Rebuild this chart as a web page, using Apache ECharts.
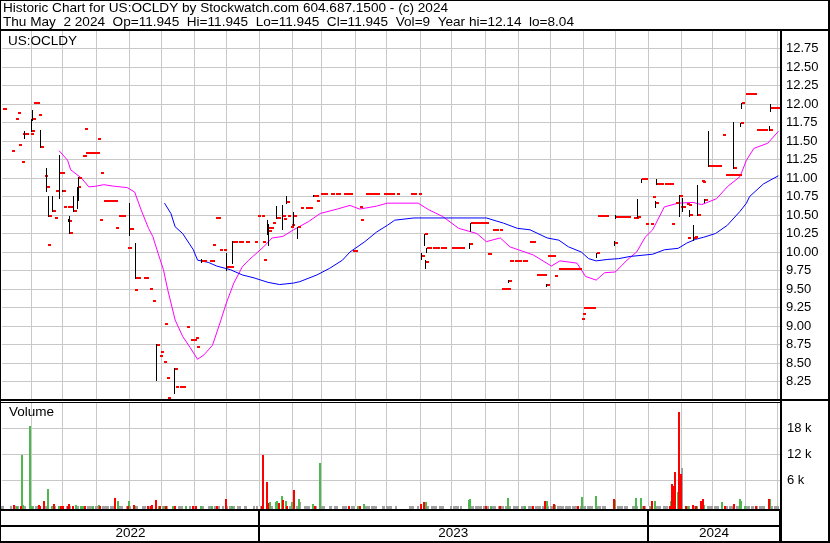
<!DOCTYPE html>
<html><head><meta charset="utf-8">
<script src="https://cdn.jsdelivr.net/npm/echarts@6/dist/echarts.min.js"></script>
<style>html,body{margin:0;padding:0;background:#fff}#c{width:830px;height:543px}</style>
</head><body><div id="c"></div>
<script>
// ---------------- text ----------------
const headerLine1 = 'Historic Chart for US:OCLDY by Stockwatch.com 604.687.1500 - (c) 2024';
const headerLine2 = 'Thu May  2 2024  Op=11.945  Hi=11.945  Lo=11.945  Cl=11.945  Vol=9  Year hi=12.14  lo=8.04';
const symbolLabel = 'US:OCLDY';
const volumeLabel = 'Volume';
const yearLabels = ['2022', '2023', '2024'];
const firstDay = '2022-05-05';
const lastDay = '2024-05-03';

// ---------------- daily closes [date, close] ----------------
const closes = [
['2022-05-05',11.93],['2022-05-06',11.93],['2022-05-13',11.37],['2022-05-17',11.80],['2022-05-19',11.88],['2022-05-20',11.45],['2022-05-23',11.22],['2022-05-24',11.60],['2022-05-25',11.60],['2022-05-26',11.60],['2022-05-27',11.60],['2022-05-31',11.60],
['2022-06-01',11.64],['2022-06-02',11.80],['2022-06-03',12.02],['2022-06-06',12.02],['2022-06-08',11.85],['2022-06-10',11.42],['2022-06-13',11.03],['2022-06-15',10.88],['2022-06-16',10.10],['2022-06-17',10.49],['2022-06-21',10.55],['2022-06-23',10.46],['2022-06-24',10.82],['2022-06-27',11.07],['2022-06-28',11.07],['2022-06-29',11.07],['2022-06-30',10.82],
['2022-07-01',10.61],['2022-07-05',10.61],['2022-07-06',10.42],['2022-07-07',10.26],['2022-07-08',10.61],['2022-07-11',10.55],['2022-07-14',10.88],['2022-07-15',11.00],['2022-07-19',11.30],['2022-07-20',11.30],['2022-07-21',11.66],['2022-07-22',11.34],['2022-07-25',11.34],['2022-07-26',11.34],['2022-07-27',11.34],['2022-07-28',11.34],['2022-07-29',11.34],
['2022-08-01',11.34],['2022-08-02',11.53],['2022-08-04',10.43],['2022-08-05',11.07],['2022-08-08',10.69],['2022-08-09',10.69],['2022-08-10',10.69],['2022-08-11',10.69],['2022-08-12',10.69],['2022-08-15',10.69],['2022-08-16',10.69],['2022-08-18',10.69],['2022-08-19',10.33],['2022-08-22',10.49],['2022-08-23',10.49],['2022-08-24',10.49],['2022-08-25',10.49],['2022-08-26',10.49],['2022-08-30',10.06],['2022-08-31',10.06],
['2022-09-01',10.31],['2022-09-02',10.31],['2022-09-06',9.49],['2022-09-07',9.65],['2022-09-08',9.65],['2022-09-09',9.65],['2022-09-14',9.65],['2022-09-15',9.65],['2022-09-16',9.65],['2022-09-20',9.50],['2022-09-23',9.34],['2022-09-26',8.74],['2022-09-29',8.59],['2022-09-30',8.65],
['2022-10-03',8.51],['2022-10-04',9.03],['2022-10-06',8.30],['2022-10-07',8.03],['2022-10-13',8.42],['2022-10-14',8.18],['2022-10-18',8.18],['2022-10-19',8.18],['2022-10-20',8.18],['2022-10-21',8.18],['2022-10-25',8.98],['2022-10-28',8.81],['2022-10-31',8.81],
['2022-11-02',8.84],['2022-11-03',8.72],['2022-11-08',9.88],['2022-11-09',9.88],['2022-11-10',9.88],['2022-11-15',9.88],['2022-11-16',9.88],['2022-11-17',9.88],['2022-11-18',10.09],['2022-11-21',10.46],['2022-11-22',10.46],['2022-11-23',10.46],['2022-11-25',10.03],['2022-11-28',10.03],
['2022-12-01',9.80],['2022-12-02',9.80],['2022-12-05',9.80],['2022-12-07',10.14],['2022-12-08',10.14],['2022-12-09',10.14],['2022-12-12',10.14],['2022-12-13',10.14],['2022-12-14',10.14],['2022-12-19',10.14],['2022-12-20',10.14],['2022-12-27',10.14],['2022-12-30',10.49],
['2023-01-03',10.49],['2023-01-04',10.13],['2023-01-05',9.89],['2023-01-09',10.33],['2023-01-10',10.29],['2023-01-11',10.33],['2023-01-13',10.39],['2023-01-17',10.46],['2023-01-18',10.46],['2023-01-23',10.48],['2023-01-24',10.45],['2023-01-26',10.67],['2023-01-27',10.49],['2023-01-30',10.34],['2023-01-31',10.37],
['2023-02-02',10.48],['2023-02-06',10.34],['2023-02-09',10.60],['2023-02-13',10.59],['2023-02-14',10.59],['2023-02-15',10.59],['2023-02-17',10.59],['2023-02-21',10.76],['2023-02-22',10.76],['2023-02-23',10.76],['2023-02-24',10.69],['2023-02-27',10.78],['2023-02-28',10.78],
['2023-03-01',10.78],['2023-03-02',10.78],['2023-03-03',10.78],['2023-03-09',10.78],['2023-03-10',10.78],['2023-03-13',10.78],['2023-03-14',10.78],['2023-03-15',10.78],['2023-03-21',10.78],['2023-03-22',10.78],['2023-03-23',10.78],['2023-03-24',10.78],['2023-03-27',10.78],['2023-03-29',10.01],['2023-03-30',10.01],['2023-03-31',10.01],
['2023-04-05',10.61],['2023-04-06',10.43],['2023-04-11',10.78],['2023-04-12',10.78],['2023-04-13',10.78],['2023-04-14',10.78],['2023-04-17',10.78],['2023-04-18',10.78],['2023-04-19',10.78],['2023-04-20',10.78],['2023-04-21',10.78],['2023-04-27',10.78],['2023-04-28',10.78],
['2023-05-01',10.78],['2023-05-02',10.78],['2023-05-03',10.78],['2023-05-04',10.78],['2023-05-05',10.78],['2023-05-10',10.78],['2023-05-23',10.78],['2023-05-24',10.78],['2023-05-25',10.78],['2023-05-26',10.78],['2023-05-30',10.78],
['2023-06-02',9.95],['2023-06-05',10.24],['2023-06-06',9.86],['2023-06-07',10.06],['2023-06-08',10.06],['2023-06-09',10.06],['2023-06-12',10.06],['2023-06-13',10.06],['2023-06-14',10.06],['2023-06-15',10.06],['2023-06-16',10.06],['2023-06-20',10.06],['2023-06-21',10.06],['2023-06-22',10.06],['2023-06-23',10.06],['2023-06-30',10.06],
['2023-07-03',10.06],['2023-07-05',10.06],['2023-07-06',10.06],['2023-07-07',10.06],['2023-07-10',10.06],['2023-07-17',10.11],['2023-07-18',10.39],['2023-07-19',10.39],['2023-07-20',10.39],['2023-07-21',10.39],['2023-07-24',10.39],['2023-07-25',10.39],['2023-07-26',10.39],['2023-07-27',10.39],['2023-07-28',10.39],['2023-07-31',10.39],
['2023-08-01',10.39],['2023-08-03',9.97],['2023-08-04',9.97],['2023-08-08',10.30],['2023-08-09',10.30],['2023-08-10',10.30],['2023-08-11',10.30],['2023-08-14',10.30],['2023-08-16',9.50],['2023-08-17',9.50],['2023-08-18',9.50],['2023-08-21',9.50],['2023-08-22',9.50],['2023-08-23',9.61],['2023-08-24',9.88],['2023-08-25',9.88],['2023-08-28',9.88],['2023-08-29',9.88],['2023-08-30',9.88],['2023-08-31',9.88],
['2023-09-01',9.88],['2023-09-05',9.88],['2023-09-06',9.88],['2023-09-07',9.88],['2023-09-11',10.13],['2023-09-12',10.13],['2023-09-13',10.13],['2023-09-14',10.13],['2023-09-18',9.69],['2023-09-19',9.69],['2023-09-20',9.69],['2023-09-21',9.69],['2023-09-22',9.69],['2023-09-25',9.69],['2023-09-27',9.55],['2023-09-28',9.94],['2023-09-29',9.94],
['2023-10-02',9.94],['2023-10-03',9.94],['2023-10-05',9.67],['2023-10-09',9.77],['2023-10-10',9.77],['2023-10-11',9.77],['2023-10-12',9.77],['2023-10-13',9.77],['2023-10-16',9.77],['2023-10-17',9.77],['2023-10-18',9.77],['2023-10-19',9.77],['2023-10-20',9.77],['2023-10-23',9.77],['2023-10-24',9.77],['2023-10-25',9.77],['2023-10-26',9.77],['2023-10-27',9.77],['2023-10-30',9.10],['2023-10-31',9.16],
['2023-11-01',9.25],['2023-11-02',9.25],['2023-11-03',9.25],['2023-11-06',9.25],['2023-11-07',9.25],['2023-11-08',9.25],['2023-11-09',9.25],['2023-11-10',9.25],['2023-11-13',9.98],['2023-11-14',10.48],['2023-11-15',10.48],['2023-11-16',10.48],['2023-11-17',10.48],['2023-11-20',10.48],['2023-11-21',10.48],['2023-11-22',10.48],['2023-11-30',10.12],
['2023-12-01',10.47],['2023-12-04',10.47],['2023-12-05',10.47],['2023-12-06',10.47],['2023-12-07',10.47],['2023-12-08',10.47],['2023-12-11',10.47],['2023-12-12',10.47],['2023-12-18',10.46],['2023-12-19',10.46],['2023-12-20',10.46],['2023-12-22',10.47],['2023-12-26',10.98],['2023-12-27',10.98],['2023-12-28',10.98],['2023-12-29',10.38],
['2024-01-03',10.38],['2024-01-05',10.74],['2024-01-08',10.66],['2024-01-09',10.92],['2024-01-10',10.92],['2024-01-11',10.92],['2024-01-12',10.92],['2024-01-16',10.92],['2024-01-17',10.92],['2024-01-18',10.92],['2024-01-19',10.92],['2024-01-22',10.92],['2024-01-23',10.38],['2024-01-26',10.66],['2024-01-30',10.76],['2024-01-31',10.61],
['2024-02-02',10.61],['2024-02-06',10.65],['2024-02-07',10.19],['2024-02-08',10.64],['2024-02-09',10.50],['2024-02-12',10.19],['2024-02-13',10.20],['2024-02-16',10.50],['2024-02-20',10.96],['2024-02-21',10.95],['2024-02-23',10.70],['2024-02-26',11.16],['2024-02-27',11.16],['2024-02-28',11.16],['2024-02-29',11.16],
['2024-03-01',11.16],['2024-03-04',11.16],['2024-03-05',11.16],['2024-03-06',11.16],['2024-03-07',11.16],['2024-03-11',11.58],['2024-03-13',11.04],['2024-03-14',11.04],['2024-03-15',11.04],['2024-03-18',11.04],['2024-03-19',11.04],['2024-03-20',11.04],['2024-03-21',11.13],['2024-03-22',11.04],['2024-03-25',11.04],['2024-03-26',11.04],['2024-03-27',11.75],['2024-03-28',12.02],
['2024-04-01',12.14],['2024-04-02',12.14],['2024-04-03',12.14],['2024-04-04',12.14],['2024-04-05',12.14],['2024-04-08',12.14],['2024-04-09',12.14],['2024-04-11',11.65],['2024-04-12',11.65],['2024-04-15',11.65],['2024-04-16',11.65],['2024-04-17',11.65],['2024-04-18',11.65],['2024-04-19',11.65],['2024-04-24',11.65],['2024-04-25',11.945],['2024-04-26',11.945],['2024-04-29',11.945],['2024-04-30',11.945],
['2024-05-01',11.945],['2024-05-02',11.945]
];

// ---------------- intraday ranges [date, low, high] ----------------
const ranges = [
['2022-05-26',11.54,11.63],['2022-06-01',11.64,11.80],['2022-06-02',11.78,11.92],['2022-06-10',11.42,11.65],['2022-06-15',10.82,11.13],['2022-06-17',10.48,10.75],['2022-06-21',10.55,10.76],['2022-06-27',10.73,11.31],['2022-06-30',10.82,10.84],
['2022-07-06',10.42,10.45],['2022-07-07',10.26,10.48],['2022-07-11',10.55,10.75],['2022-07-14',10.59,10.88],['2022-07-15',10.70,11.01],['2022-09-01',10.23,10.66],['2022-09-07',9.65,10.12],['2022-09-26',8.27,8.76],['2022-10-13',8.10,8.43],
['2022-11-08',9.87,9.91],['2022-12-01',9.76,9.98],['2022-12-07',9.85,10.15],
['2023-01-09',10.25,10.43],['2023-01-10',10.09,10.38],['2023-01-17',10.46,10.62],['2023-01-23',10.31,10.64],['2023-01-26',10.66,10.76],['2023-02-02',10.36,10.54],['2023-02-06',10.19,10.34],['2023-02-21',10.75,10.77],
['2023-06-02',9.90,9.98],['2023-06-05',10.09,10.24],['2023-06-06',9.79,9.89],['2023-06-07',10.00,10.06],['2023-07-17',10.05,10.12],['2023-07-18',10.28,10.39],['2023-08-23',9.59,9.62],['2023-09-27',9.54,9.57],
['2023-11-13',9.93,9.98],['2023-11-30',10.09,10.15],['2023-12-01',10.46,10.50],['2023-12-22',10.47,10.72],['2023-12-26',10.95,10.98],
['2024-01-08',10.61,10.69],['2024-01-09',10.92,10.99],['2024-01-30',10.48,10.77],['2024-02-02',10.55,10.73],['2024-02-09',10.48,10.57],['2024-02-12',10.16,10.36],['2024-02-16',10.50,10.91],['2024-02-23',10.68,10.71],
['2024-02-26',11.16,11.64],['2024-03-21',11.13,11.76],['2024-03-27',11.70,11.75],['2024-03-28',11.94,12.02],['2024-04-24',11.65,11.70],['2024-04-25',11.91,12.00]
];

// ---------------- moving averages [date, value] ----------------
const maFast = [
['2022-06-27',11.37],['2022-07-05',11.24],['2022-07-08',11.11],['2022-07-18',11.00],['2022-07-25',10.88],['2022-08-01',10.89],['2022-08-08',10.91],['2022-08-17',10.89],['2022-08-30',10.87],['2022-09-06',10.81],['2022-09-12',10.57],['2022-09-19',10.32],['2022-09-23',10.21],['2022-09-28',9.98],
['2022-10-03',9.76],['2022-10-07',9.49],['2022-10-14',9.08],['2022-10-21',8.86],['2022-10-28',8.71],['2022-11-04',8.55],['2022-11-10',8.61],['2022-11-18',8.74],['2022-11-25',9.04],['2022-12-01',9.31],['2022-12-08',9.58],['2022-12-16',9.80],['2022-12-22',9.89],
['2023-01-05',10.07],['2023-01-13',10.19],['2023-01-23',10.21],['2023-02-02',10.30],['2023-02-16',10.41],['2023-02-27',10.52],['2023-03-15',10.58],['2023-03-27',10.63],['2023-04-05',10.58],['2023-04-21',10.62],['2023-05-01',10.66],['2023-05-30',10.66],
['2023-06-09',10.57],['2023-06-22',10.48],['2023-07-07',10.32],['2023-07-24',10.25],['2023-08-02',10.14],['2023-08-15',10.19],['2023-08-24',10.07],['2023-09-01',10.03],['2023-09-15',9.96],['2023-10-02',9.81],['2023-10-10',9.88],['2023-10-26',9.85],
['2023-11-03',9.67],['2023-11-13',9.62],['2023-11-21',9.72],['2023-12-01',9.73],['2023-12-12',9.89],['2023-12-21',10.00],['2023-12-29',10.20],['2024-01-05',10.30],['2024-01-16',10.61],['2024-01-29',10.66],['2024-02-12',10.67],['2024-02-20',10.64],
['2024-03-05',10.72],['2024-03-15',10.88],['2024-03-27',11.02],['2024-04-02',11.24],['2024-04-09',11.40],['2024-04-22',11.47],['2024-05-02',11.63]
];
const maSlow = [
['2022-10-04',10.66],['2022-10-10',10.52],['2022-10-14',10.34],['2022-10-21',10.25],['2022-10-31',10.03],['2022-11-04',9.89],['2022-11-14',9.86],['2022-11-22',9.81],['2022-12-05',9.76],['2022-12-16',9.69],['2022-12-27',9.65],
['2023-01-09',9.59],['2023-01-20',9.56],['2023-02-02',9.58],['2023-02-08',9.60],['2023-02-24',9.69],['2023-03-08',9.78],['2023-03-20',9.89],['2023-03-27',10.00],['2023-04-10',10.14],['2023-04-21',10.27],['2023-05-01',10.36],['2023-05-08',10.43],['2023-05-26',10.46],
['2023-08-02',10.46],['2023-08-18',10.39],['2023-08-31',10.32],['2023-09-12',10.30],['2023-09-28',10.19],['2023-10-09',10.16],['2023-10-18',10.07],['2023-10-30',10.00],['2023-11-06',9.91],['2023-11-13',9.88],['2023-11-24',9.90],['2023-12-04',9.91],['2023-12-15',9.94],
['2024-01-05',9.97],['2024-01-16',10.03],['2024-01-29',10.05],['2024-02-06',10.12],['2024-02-14',10.17],['2024-02-22',10.20],['2024-03-04',10.25],['2024-03-15',10.36],['2024-03-27',10.55],['2024-04-02',10.66],['2024-04-05',10.75],['2024-04-18',10.92],['2024-05-02',11.03]
];

// ---------------- volume [date, shares] ----------------
const volUp = [
['2022-05-19',150],['2022-05-24',11800],['2022-05-25',300],['2022-05-31',18500],['2022-06-02',100],['2022-06-17',4000],['2022-06-21',150],['2022-06-27',150],['2022-07-13',250],['2022-07-18',100],['2022-07-20',100],['2022-07-29',100],
['2022-08-04',250],['2022-08-22',1200],['2022-09-01',1200],['2022-09-07',150],['2022-09-29',100],['2022-10-04',150],['2022-10-12',100],['2022-10-13',100],['2022-10-25',150],['2022-11-08',150],['2022-11-18',100],['2022-12-07',100],
['2023-01-11',1100],['2023-01-17',1100],['2023-01-18',1200],['2023-01-23',2400],['2023-01-26',1200],['2023-02-01',1000],['2023-02-02',1000],['2023-02-08',1700],['2023-02-21',500],['2023-02-27',9900],['2023-04-04',100],['2023-04-05',100],['2023-04-10',500],
['2023-06-07',1000],['2023-07-17',1500],['2023-07-18',1800],['2023-08-07',100],['2023-08-23',1900],['2023-09-08',100],['2023-09-28',1200],['2023-10-06',250],['2023-10-31',2100],['2023-11-13',2400],['2023-12-01',1500],['2023-12-21',1900],['2023-12-26',1900],
['2024-01-04',150],['2024-01-08',1200],['2024-01-23',1200],['2024-01-29',3400],['2024-01-31',3100],['2024-02-08',150],['2024-02-16',100],['2024-02-23',250],['2024-03-11',1000],['2024-03-27',1700],['2024-03-28',1200],['2024-04-01',150],['2024-04-25',1700]
];
const volDown = [
['2022-05-16',200],['2022-05-23',150],['2022-06-09',200],['2022-06-10',100],['2022-06-13',1300],['2022-06-23',500],['2022-06-29',100],['2022-07-01',100],['2022-07-06',100],['2022-07-07',500],['2022-07-11',150],['2022-07-22',150],
['2022-08-05',150],['2022-08-19',1900],['2022-08-31',150],['2022-09-06',200],['2022-09-19',100],['2022-09-22',100],['2022-09-23',200],['2022-09-26',1500],['2022-09-30',100],['2022-10-06',100],['2022-10-14',100],['2022-10-31',100],['2022-11-03',150],['2022-11-23',100],['2022-12-01',1700],
['2023-01-04',150],['2023-01-05',11800],['2023-01-09',5600],['2023-01-10',700],['2023-01-20',700],['2023-01-24',1500],['2023-01-27',150],['2023-02-03',3800],['2023-02-23',100],['2023-03-27',100],['2023-04-06',150],
['2023-06-02',500],['2023-06-05',1000],['2023-08-02',100],['2023-08-15',100],['2023-09-15',100],['2023-09-26',1200],['2023-10-05',500],['2023-10-27',100],['2023-11-30',1700],['2023-12-28',100],
['2024-01-05',1200],['2024-01-22',100],['2024-01-24',5100],['2024-01-25',4800],['2024-01-26',8000],['2024-01-30',21800],['2024-02-01',7400],['2024-02-06',150],['2024-02-12',250],['2024-02-15',100],['2024-02-20',1300],['2024-02-22',1700],
['2024-03-13',100],['2024-03-22',500],['2024-04-11',100],['2024-04-24',1700]
];
const volFlat = [['2023-02-09',1000],['2024-02-02',8900]];

// ---------------- build ----------------
const FONT = '"Liberation Sans", Arial, sans-serif';
const days = [];
for (let t = Date.parse(firstDay + 'T00:00:00Z'); t <= Date.parse(lastDay + 'T00:00:00Z'); t += 86400000) {
  days.push(new Date(t).toISOString().slice(0, 10));
}
const dayIdx = {};
days.forEach((d, i) => { dayIdx[d] = i; });

const rangeMap = {};
ranges.forEach(r => { rangeMap[r[0]] = r; });
const priceData = closes.map(c => {
  const r = rangeMap[c[0]];
  return [dayIdx[c[0]], c[1], r ? r[1] : c[1], r ? r[2] : c[1]];
});

const volColors = ['#4db84d', '#ff0000', '#a0a0a0'];
const volData = [];
const hasVol = {};
[volUp, volDown, volFlat].forEach(arr => arr.forEach(v => { hasVol[v[0]] = true; }));
closes.forEach(c => { if (!hasVol[c[0]]) volData.push([dayIdx[c[0]], 0, 2]); });
[[volFlat, 2], [volUp, 0], [volDown, 1]].forEach(([arr, k]) => arr.forEach(v => { volData.push([dayIdx[v[0]], v[1], k]); }));

const yearData = yearLabels.map(y => {
  const s = dayIdx[y + '-01-01'] !== undefined ? dayIdx[y + '-01-01'] : 0;
  const e = dayIdx[y + '-12-31'] !== undefined ? dayIdx[y + '-12-31'] : days.length - 1;
  return [s, e];
});

function renderPrice(params, api) {
  const i = api.value(0), c = api.value(1), lo = api.value(2), hi = api.value(3);
  const p = api.coord([i, c]);
  const x = Math.floor(p[0]);
  const kids = [];
  if (hi > lo) {
    const top = Math.round(api.coord([i, hi])[1]);
    const bot = Math.round(api.coord([i, lo])[1]);
    kids.push({ type: 'rect', shape: { x: x, y: top, width: 1, height: Math.max(1, bot - top + 1) }, style: { fill: '#000000' } });
  }
  kids.push({ type: 'rect', shape: { x: x + 1, y: Math.round(p[1]) - 1, width: 3, height: 2 }, style: { fill: '#ff0000' } });
  return { type: 'group', children: kids };
}

function renderVol(params, api) {
  const i = api.value(0), v = api.value(1), k = api.value(2);
  const cs = params.coordSys;
  const base = Math.round(cs.y + cs.height + 2.4);
  const p = api.coord([i, v]);
  const top = Math.min(Math.round(p[1]), base - 2);
  return { type: 'rect', shape: { x: Math.floor(p[0]) - 1, y: top, width: 2, height: base - top }, style: { fill: volColors[k] } };
}

function renderYear(params, api) {
  const s = api.value(0), e = api.value(1);
  const cs = params.coordSys;
  const bw = cs.width / days.length;
  const x0 = api.coord([s, 0])[0] - bw / 2;
  const x1 = api.coord([e, 0])[0] + bw / 2;
  return { type: 'text', x: (x0 + x1) / 2, y: cs.y + cs.height - 8, style: { text: yearLabels[params.dataIndex], textAlign: 'center', textVerticalAlign: 'middle', font: '13.5px ' + FONT, fill: '#000' } };
}

const gridColor = '#c8c8c8';
const monthSplit = (i, v) => typeof v === 'string' && v.slice(8) === '01';
const yearSplit = (i, v) => typeof v === 'string' && v.slice(5) === '01-01';

function xAx(gridIndex, split, color, width) {
  return {
    type: 'category', gridIndex: gridIndex, data: days, boundaryGap: true,
    axisLine: { show: false }, axisTick: { show: false, interval: split }, axisLabel: { show: false, interval: split },
    splitLine: { show: true, interval: split, lineStyle: { color: color, width: width } }
  };
}

const chart = echarts.init(document.getElementById('c'), null, { renderer: 'canvas', width: 830, height: 543 });
const bl = (x, y, w, h) => ({ type: 'rect', z: 100, shape: { x: x, y: y, width: w, height: h }, style: { fill: '#000' } });
const tx = (t, x, y, size) => ({ type: 'text', z: 101, style: { text: t, x: x, y: y, font: size + 'px ' + FONT, fill: '#000', textVerticalAlign: 'top' } });

chart.setOption({
  animation: false,
  backgroundColor: '#ffffff',
  grid: [
    { left: 2, top: 30, width: 778, height: 370, outerBoundsMode: 'none', containLabel: false },
    { left: 2, top: 402.3, width: 778, height: 104, outerBoundsMode: 'none', containLabel: false },
    { left: 2, top: 509, width: 778, height: 32, outerBoundsMode: 'none', containLabel: false }
  ],
  xAxis: [xAx(0, monthSplit, gridColor, 1), xAx(1, monthSplit, gridColor, 1), xAx(2, yearSplit, '#000', 2)],
  yAxis: [
    { type: 'value', gridIndex: 0, position: 'right', min: 8, max: 13, interval: 0.25,
      axisLine: { show: false }, axisTick: { show: false },
      axisLabel: { margin: 6, color: '#000', fontSize: 13, fontFamily: FONT, showMinLabel: false, showMaxLabel: false, formatter: v => v.toFixed(2) },
      splitLine: { show: true, showMinLine: false, showMaxLine: false, lineStyle: { color: gridColor, width: 1 } } },
    { type: 'value', gridIndex: 1, position: 'right', min: 0, max: 24000, interval: 6000,
      axisLine: { show: false }, axisTick: { show: false },
      axisLabel: { margin: 7, color: '#000', fontSize: 13, fontFamily: FONT, showMinLabel: false, showMaxLabel: false, formatter: v => (v / 1000) + ' k' },
      splitLine: { show: true, showMinLine: false, showMaxLine: false, lineStyle: { color: gridColor, width: 1 } } },
    { type: 'value', gridIndex: 2, min: 0, max: 1, show: false }
  ],
  series: [
    { type: 'line', xAxisIndex: 0, yAxisIndex: 0, data: maFast.map(d => [dayIdx[d[0]], d[1]]), showSymbol: false, symbol: 'none', lineStyle: { color: '#ff00ff', width: 1 }, z: 2 },
    { type: 'line', xAxisIndex: 0, yAxisIndex: 0, data: maSlow.map(d => [dayIdx[d[0]], d[1]]), showSymbol: false, symbol: 'none', lineStyle: { color: '#0000ff', width: 1 }, z: 2 },
    { type: 'custom', xAxisIndex: 0, yAxisIndex: 0, data: priceData, encode: { x: 0, y: [1, 2, 3] }, renderItem: renderPrice, z: 3 },
    { type: 'custom', xAxisIndex: 1, yAxisIndex: 1, data: volData, encode: { x: 0, y: 1 }, renderItem: renderVol, z: 3 },
    { type: 'custom', xAxisIndex: 2, yAxisIndex: 2, data: yearData, encode: { x: [0, 1] }, renderItem: renderYear, z: 3 }
  ],
  graphic: [
    bl(0, 0, 830, 1), bl(0, 0, 1, 543), bl(828, 0, 2, 543),
    bl(0, 29, 830, 2),
    bl(0, 399, 830, 2), bl(0, 402, 782, 1),
    bl(0, 509, 782, 2), bl(0, 525, 782, 2), bl(0, 541, 830, 2),
    bl(780, 29, 2, 514),
    tx(headerLine1, 3, 1.5, 13.6), tx(headerLine2, 3, 15.5, 13.6),
    tx(symbolLabel, 8, 34, 13.5), tx(volumeLabel, 9, 405, 13.5)
  ]
});
</script>
</body></html>
